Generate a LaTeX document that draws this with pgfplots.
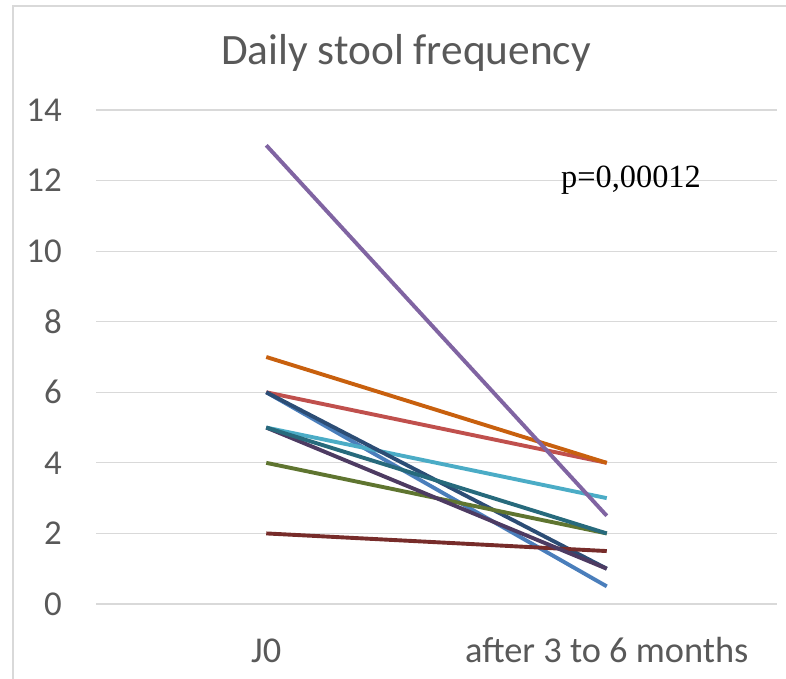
\documentclass[border=0pt]{standalone}
\usepackage{fontspec}
\setmainfont{Carlito}
\newfontfamily\timesfont{Liberation Serif}
\usepackage{pgfplots}
\pgfplotsset{compat=1.18}
\definecolor{txt}{HTML}{595959}
\definecolor{gridc}{HTML}{D9D9D9}
\definecolor{framec}{HTML}{D9D9D9}
\definecolor{cblue}{HTML}{4A7EBB}
\definecolor{cred}{HTML}{C0504D}
\definecolor{cpurple}{HTML}{8064A2}
\definecolor{ccyan}{HTML}{4BACC6}
\definecolor{cnavy}{HTML}{2C4D75}
\definecolor{cdred}{HTML}{772C2A}
\definecolor{cdgreen}{HTML}{5F7530}
\definecolor{cdpurple}{HTML}{4D3B62}
\definecolor{cdteal}{HTML}{276A7C}
\definecolor{cdorange}{HTML}{C8600E}
\begin{document}
\begin{tikzpicture}[x=1bp,y=1bp]
\path[use as bounding box] (0,0) rectangle (786,679);
\draw[color=framec, line width=2bp] (13,-5) -- (13,673) -- (800,673);
\node[font=\fontsize{43.5}{50}\selectfont, text=txt, anchor=base] at (406,614) {Daily stool frequency};
\begin{axis}[at={(96bp,75bp)}, anchor=south west, scale only axis,
  width=681bp, height=494bp,
  xmin=-0.5, xmax=1.5, ymin=0, ymax=14,
  ytick={0,2,...,14}, xtick={0,1},
  xticklabels={J0, after 3 to 6 months},
  axis line style={draw=none},
  ymajorgrids, grid style={color=gridc, line width=1.2bp},
  major tick length=0pt,
  tick label style={text=txt},
  yticklabel style={font=\fontsize{35}{40}\selectfont, anchor=east, inner sep=0pt, xshift=-34bp},
  xticklabel style={font=\fontsize{36.5}{42}\selectfont, anchor=base, inner sep=0pt, yshift=-59bp},
  /pgf/number format/assume math mode=true,
  clip=false,
  every axis plot/.append style={line width=3.9bp, no markers}]
\addplot[cblue] coordinates {(0,6) (1,0.5)};
\addplot[cred] coordinates {(0,6) (1,4)};
\addplot[ccyan] coordinates {(0,5) (1,3)};
\addplot[cnavy] coordinates {(0,6) (1,1)};
\addplot[cdred] coordinates {(0,2) (1,1.5)};
\addplot[cdgreen] coordinates {(0,4) (1,2)};
\addplot[cdpurple] coordinates {(0,5) (1,1)};
\addplot[cdteal] coordinates {(0,5) (1,2)};
\addplot[cdorange] coordinates {(0,7) (1,4)};
\addplot[cpurple] coordinates {(0,13) (1,2.5)};
\end{axis}
\node[font=\timesfont\fontsize{32.5}{38}\selectfont, anchor=base] at (631,491) {p=0,00012};
\end{tikzpicture}
\end{document}
